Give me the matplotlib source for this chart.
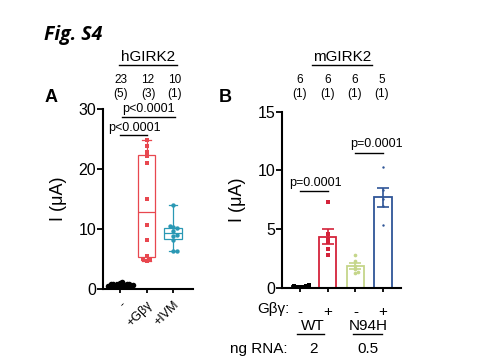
import numpy as np
import matplotlib
matplotlib.use("Agg")
import matplotlib.pyplot as plt
from matplotlib.lines import Line2D

plt.rcParams['font.family'] = ['Liberation Sans', 'DejaVu Sans']

# panel A - hGIRK2, box plots
a_groups = ['-', '+G\u03b2\u03b3', '+IVM']
a_ctrl = [1.1, 1.0, 0.9, 0.9, 0.8, 0.8, 0.7, 0.7, 0.7, 0.6, 0.6, 0.6,
          0.5, 0.5, 0.5, 0.4, 0.4, 0.4, 0.3, 0.3, 0.3, 0.2, 0.2]
a_gbg = [24.8, 23.9, 22.9, 22.1, 21.0, 15.0, 10.7, 8.2, 5.5, 5.0, 4.8, 4.6]
a_ivm = [14.0, 10.5, 10.3, 10.1, 9.6, 9.0, 8.8, 8.1, 6.4, 6.3]
a_n = ['23\n(5)', '12\n(3)', '10\n(1)']
a_colors = ['black', '#e8474f', '#2a98b4']

# panel B - mGIRK2, bars with SEM
b_gbg = ['-', '+', '-', '+']
b_wt_minus = [0.25, 0.2, 0.15, 0.1, 0.1, 0.1]
b_wt_plus = [7.3, 4.6, 4.2, 3.9, 3.3, 2.8]
b_n94_minus = [2.8, 2.3, 1.9, 1.6, 1.4, 1.3]
b_n94_plus = [10.3, 8.3, 7.6, 7.0, 5.4]
b_n = ['6\n(1)', '6\n(1)', '6\n(1)', '5\n(1)']
b_colors = ['black', '#d4233a', '#c5d68a', '#2f5597']

W, H = 500, 358
fig = plt.figure(figsize=(5, 3.58), dpi=100)


def fx(x):
    return x / W


def fy(y):
    return 1 - y / H


def uline(x0, x1, y):
    fig.add_artist(Line2D([fx(x0), fx(x1)], [fy(y), fy(y)], color='black', lw=1))


def swarm(vals, px_x, px_y, d):
    # place dots one by one, sliding sideways until they don't overlap
    placed = []
    offs = np.zeros(len(vals))
    for idx in np.argsort(vals):
        y = vals[idx] * px_y
        k = 0
        while True:
            for sgn in ([1] if k == 0 else [1, -1]):
                x = sgn * k * d * 0.5
                if all((x - px) ** 2 + (y - py) ** 2 >= d * d for px, py in placed):
                    break
            else:
                k += 1
                continue
            break
        placed.append((x, y))
        offs[idx] = x / px_x
    return offs


# ---------- panel A
axA = fig.add_axes([fx(103), fy(289), fx(193) - fx(103), fy(109) - fy(289)])
data_a = [a_ctrl, a_gbg, a_ivm]
for i, (d, c) in enumerate(zip(data_a, a_colors)):
    axA.boxplot([d], positions=[i], widths=0.66, whis=(0, 100),
                showfliers=False, patch_artist=True,
                boxprops=dict(facecolor='white', edgecolor=c, lw=0.9),
                medianprops=dict(color=c, lw=0.9),
                whiskerprops=dict(color=c, lw=0.9),
                capprops=dict(color=c, lw=0.9))
    offs = swarm(d, 26.5, 6.0, 2.2 if i == 0 else 3.5)
    axA.scatter(i + offs, d, s=16 if i == 0 else 10, marker='o' if i != 1 else 's',
                color=c, zorder=3, linewidths=0)

axA.set_xlim(-0.64, 2.75)
axA.set_ylim(0, 30)
axA.set_yticks([0, 10, 20, 30])
axA.set_xticks(range(3))
axA.set_xticklabels(a_groups, rotation=45, ha='right', rotation_mode='anchor', fontsize=9)
axA.tick_params(axis='y', labelsize=11.5, width=1.3, length=4, pad=1)
axA.tick_params(axis='x', width=1.3, length=3, pad=4)
axA.set_ylabel('I (\u03bcA)', fontsize=13, labelpad=8)
for s in ['top', 'right']:
    axA.spines[s].set_visible(False)
for s in ['left', 'bottom']:
    axA.spines[s].set_linewidth(1.5)

axA.plot([0.07, 2.07], [28.7, 28.7], color='black', lw=1, clip_on=False)
axA.text(1.07, 29.0, 'p<0.0001', ha='center', va='bottom', fontsize=9)
axA.plot([0.0, 1.0], [25.7, 25.7], color='black', lw=1, clip_on=False)
axA.text(0.55, 25.9, 'p<0.0001', ha='center', va='bottom', fontsize=9)

# ---------- panel B
axB = fig.add_axes([fx(282), fy(288), fx(401) - fx(282), fy(111.7) - fy(288)])
data_b = [b_wt_minus, b_wt_plus, b_n94_minus, b_n94_plus]
for i, (d, c) in enumerate(zip(data_b, b_colors)):
    m = np.mean(d)
    sem = np.std(d, ddof=1) / np.sqrt(len(d))
    axB.bar(i, m, width=0.62, facecolor='black' if i == 0 else 'white',
            edgecolor=c, lw=1.3, zorder=2)
    axB.errorbar(i, m, yerr=sem, color=c, capsize=4, lw=1.2, capthick=1.2, zorder=3)
    offs = swarm(d, 27.5, 11.8, 3.0)
    axB.scatter(i + offs, d, s=7 if i != 3 else 3, marker='s' if i < 2 else 'o',
                color=c, zorder=4, linewidths=0)

axB.set_xlim(-0.66, 3.65)
axB.set_ylim(0, 15)
axB.set_yticks([0, 5, 10, 15])
axB.set_xticks(range(4))
axB.set_xticklabels(b_gbg, fontsize=11)
axB.tick_params(axis='y', labelsize=11.5, width=1.3, length=4, pad=1)
axB.tick_params(axis='x', width=1.3, length=3, pad=9)
axB.set_ylabel('I (\u03bcA)', fontsize=13, labelpad=8)
for s in ['top', 'right']:
    axB.spines[s].set_visible(False)
for s in ['left', 'bottom']:
    axB.spines[s].set_linewidth(1.5)

axB.plot([0.0, 1.0], [8.25, 8.25], color='black', lw=1, clip_on=False)
axB.text(0.55, 8.45, 'p=0.0001', ha='center', va='bottom', fontsize=9)
axB.plot([2.0, 3.0], [11.5, 11.5], color='black', lw=1, clip_on=False)
axB.text(2.75, 11.7, 'p=0.0001', ha='center', va='bottom', fontsize=9)

# ---------- labels around the panels
fig.text(fx(44), fy(35), 'Fig. S4', fontsize=14, fontweight='bold', style='italic',
         family=['Open Sans', 'DejaVu Sans'], va='center', ha='left')
fig.text(fx(45), fy(98), 'A', fontsize=13, fontweight='bold', va='center', ha='left')
fig.text(fx(219), fy(98), 'B', fontsize=13, fontweight='bold', va='center', ha='left')

fig.text(fx(148), fy(57), 'hGIRK2', fontsize=11, ha='center', va='center')
uline(119, 177, 65)
for x, t in zip([121, 148, 175], a_n):
    fig.text(fx(x), fy(87), t, fontsize=8.5, ha='center', va='center', linespacing=1.3)

fig.text(fx(342), fy(57), 'mGIRK2', fontsize=11, ha='center', va='center')
uline(312, 372, 65)
for x, t in zip([300, 328, 355, 382], b_n):
    fig.text(fx(x), fy(87), t, fontsize=8.5, ha='center', va='center', linespacing=1.3)

fig.text(fx(289), fy(309), 'G\u03b2\u03b3:', fontsize=11, ha='right', va='center')
fig.text(fx(313), fy(326), 'WT', fontsize=11, ha='center', va='center')
uline(297, 324, 334)
fig.text(fx(368), fy(326), 'N94H', fontsize=11, ha='center', va='center')
uline(353, 382, 334)
fig.text(fx(287), fy(349), 'ng RNA:', fontsize=11, ha='right', va='center')
fig.text(fx(313), fy(349), '2', fontsize=11, ha='center', va='center')
fig.text(fx(368), fy(349), '0.5', fontsize=11, ha='center', va='center')

fig.savefig('out.png', dpi=100)
